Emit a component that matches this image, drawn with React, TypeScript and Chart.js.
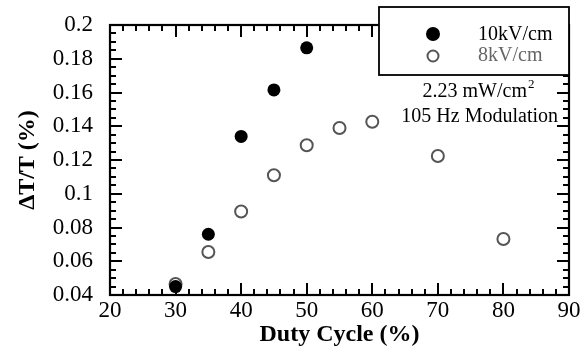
import React, { useEffect, useRef } from "react";
import { Chart, registerables } from "chart.js";

Chart.register(...registerables);

const dutyFilled = [30, 35, 40, 45, 50];
const dT10 = [0.045, 0.076, 0.134, 0.1615, 0.1865];
const dutyOpen = [30, 35, 40, 45, 50, 55, 60, 70, 80];
const dT8 = [0.0465, 0.0655, 0.0895, 0.111, 0.1287, 0.139, 0.1427, 0.1224, 0.0732];
const seriesLabels = ["10kV/cm", "8kV/cm"];
const noteLines = ["2.23 mW/cm", "105 Hz Modulation"];

const SERIF = "'Liberation Serif', 'Times New Roman', serif";

function drawFrame(chart: any) {
  const { ctx, chartArea: a, scales } = chart;
  const xs = scales.x;
  const ys = scales.y;
  ctx.save();
  ctx.strokeStyle = "#000";
  ctx.lineWidth = 2;
  ctx.lineCap = "butt";
  ctx.beginPath();
  for (let v = 20; v <= 90; v += 2) {
    const px = Math.round(xs.getPixelForValue(v));
    const len = v % 10 === 0 ? 12 : 6;
    ctx.moveTo(px, a.bottom);
    ctx.lineTo(px, a.bottom - len);
    ctx.moveTo(px, a.top);
    ctx.lineTo(px, a.top + len);
  }
  for (let k = 0; k <= 32; k++) {
    const v = 0.04 + k * 0.005;
    const py = Math.round(ys.getPixelForValue(v));
    const len = k % 4 === 0 ? 12 : 6;
    ctx.moveTo(a.left, py);
    ctx.lineTo(a.left + len, py);
    ctx.moveTo(a.right, py);
    ctx.lineTo(a.right - len, py);
  }
  ctx.stroke();
  ctx.lineWidth = 2.2;
  ctx.strokeRect(a.left, a.top, a.right - a.left, a.bottom - a.top);
  ctx.restore();
}

const framePlugin = {
  id: "frameTicks",
  beforeDatasetsDraw(chart: any) {
    drawFrame(chart);
  },
  afterDraw(chart: any) {
    const { ctx } = chart;
    ctx.save();
    const bx = 379, by = 7, bw = 190, bh = 68;
    ctx.fillStyle = "#fff";
    ctx.fillRect(bx, by, bw, bh);
    ctx.strokeStyle = "#000";
    ctx.lineWidth = 1.8;
    ctx.strokeRect(bx, by, bw, bh);
    ctx.beginPath();
    ctx.arc(433, 34, 7, 0, Math.PI * 2);
    ctx.fillStyle = "#000";
    ctx.fill();
    ctx.beginPath();
    ctx.arc(433, 56, 5.5, 0, Math.PI * 2);
    ctx.strokeStyle = "#555";
    ctx.lineWidth = 2;
    ctx.stroke();
    ctx.font = `20px ${SERIF}`;
    ctx.textAlign = "left";
    ctx.textBaseline = "alphabetic";
    ctx.fillStyle = "#000";
    ctx.fillText(seriesLabels[0], 478, 40);
    ctx.fillStyle = "#666";
    ctx.fillText(seriesLabels[1], 478, 61);
    ctx.fillStyle = "#000";
    ctx.font = `20px ${SERIF}`;
    const w1 = ctx.measureText(noteLines[0]).width;
    ctx.font = `13px ${SERIF}`;
    const ws = ctx.measureText("2").width;
    const cx = 478;
    const x1 = cx - (w1 + ws) / 2;
    ctx.font = `20px ${SERIF}`;
    ctx.fillText(noteLines[0], x1, 97);
    ctx.font = `13px ${SERIF}`;
    ctx.fillText("2", x1 + w1 + 1, 88);
    ctx.font = `20px ${SERIF}`;
    ctx.textAlign = "right";
    ctx.fillText(noteLines[1], 558, 122);
    ctx.restore();
  },
};

export default function App() {
  const ref = useRef<HTMLCanvasElement>(null);
  useEffect(() => {
    document.body.style.margin = "0";
    const canvas = ref.current!;
    const chart = new Chart(canvas, {
      type: "scatter",
      data: {
        datasets: [
          {
            label: seriesLabels[1],
            data: dutyOpen.map((x, i) => ({ x, y: dT8[i] })),
            pointRadius: 6,
            pointHoverRadius: 6,
            pointBackgroundColor: "rgba(255,255,255,0)",
            pointBorderColor: "#555",
            pointBorderWidth: 2,
            clip: false,
            order: 2,
          } as any,
          {
            label: seriesLabels[0],
            data: dutyFilled.map((x, i) => ({ x, y: dT10[i] })),
            pointRadius: 6.5,
            pointHoverRadius: 6.5,
            pointBackgroundColor: "#000",
            pointBorderColor: "#000",
            pointBorderWidth: 0,
            clip: false,
            order: 1,
          } as any,
        ],
      },
      options: {
        animation: false,
        responsive: false,
        devicePixelRatio: 1,
        layout: { padding: { top: 25, right: 18, left: 0, bottom: 0 } },
        plugins: { legend: { display: false }, tooltip: { enabled: false } },
        scales: {
          x: {
            type: "linear",
            min: 20,
            max: 90,
            grid: { display: false, drawTicks: false },
            border: { display: false },
            ticks: {
              stepSize: 10,
              padding: 2,
              color: "#000",
              font: { family: SERIF, size: 23 },
              maxRotation: 0,
            },
            title: {
              display: true,
              text: "Duty Cycle (%)",
              color: "#000",
              font: { family: SERIF, size: 24, weight: "bold" },
              padding: { top: 0, bottom: 5 },
            },
            afterFit(scale: any) {
              scale.height = 59;
              scale.paddingLeft = 0;
              scale.paddingRight = 0;
            },
          },
          y: {
            type: "linear",
            min: 0.04,
            max: 0.2,
            grid: { display: false, drawTicks: false },
            border: { display: false },
            ticks: {
              stepSize: 0.02,
              padding: 17,
              color: "#000",
              font: { family: SERIF, size: 23 },
              callback: (v: any) => String(Number(Number(v).toFixed(2))),
            },
            title: {
              display: true,
              text: "ΔT/T (%)",
              color: "#000",
              font: { family: SERIF, size: 24, weight: "bold" },
              padding: { top: 13, bottom: 0 },
            },
            afterFit(scale: any) {
              scale.width = 110;
              scale.paddingTop = 0;
              scale.paddingBottom = 0;
            },
          },
        },
      },
      plugins: [framePlugin],
    });
    return () => chart.destroy();
  }, []);
  return (
    <div style={{ width: 587, height: 354 }}>
      <canvas ref={ref} width={587} height={354} />
    </div>
  );
}
